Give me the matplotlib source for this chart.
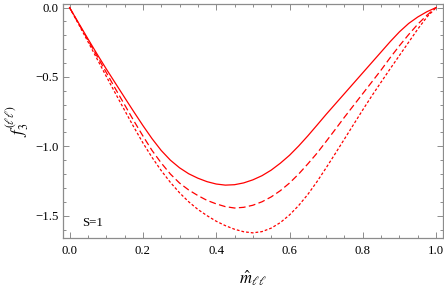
import matplotlib
matplotlib.use("Agg")
import matplotlib.pyplot as plt
from matplotlib.ticker import MultipleLocator

x_vals = [0.0, 0.025, 0.05, 0.075, 0.1, 0.125, 0.15, 0.175, 0.2, 0.225,
          0.25, 0.275, 0.3, 0.325, 0.35, 0.375, 0.4, 0.425, 0.45, 0.475,
          0.5, 0.525, 0.55, 0.575, 0.6, 0.625, 0.65, 0.675, 0.7, 0.725,
          0.75, 0.775, 0.8, 0.825, 0.85, 0.875, 0.9, 0.925, 0.95, 0.975, 1.0]
f_solid = [0.0, -0.113, -0.225, -0.335, -0.442, -0.545, -0.648, -0.75, -0.85, -0.945,
           -1.03, -1.10, -1.155, -1.198, -1.23, -1.255, -1.272, -1.28, -1.277, -1.264,
           -1.242, -1.212, -1.172, -1.122, -1.065, -0.998, -0.925, -0.848, -0.77, -0.695,
           -0.62, -0.545, -0.47, -0.395, -0.32, -0.245, -0.175, -0.115, -0.068, -0.03, 0.0]
f_dashed = [0.0, -0.117, -0.233, -0.35, -0.467, -0.585, -0.70, -0.815, -0.925, -1.03,
            -1.12, -1.20, -1.265, -1.315, -1.355, -1.39, -1.415, -1.435, -1.445, -1.44,
            -1.425, -1.40, -1.365, -1.32, -1.265, -1.20, -1.127, -1.05, -0.965, -0.878,
            -0.79, -0.705, -0.62, -0.535, -0.45, -0.36, -0.275, -0.195, -0.12, -0.055, 0.0]
f_dotted = [0.0, -0.122, -0.245, -0.37, -0.495, -0.618, -0.74, -0.86, -0.975, -1.08,
            -1.175, -1.26, -1.335, -1.40, -1.455, -1.50, -1.54, -1.572, -1.598, -1.616,
            -1.624, -1.615, -1.59, -1.55, -1.495, -1.427, -1.347, -1.255, -1.155, -1.052,
            -0.947, -0.842, -0.737, -0.635, -0.537, -0.44, -0.345, -0.25, -0.155, -0.068, 0.0]

x_ticks = [0.0, 0.2, 0.4, 0.6, 0.8, 1.0]
y_ticks = [0.0, -0.5, -1.0, -1.5]
annotation = "S=1"

plt.rcParams['mathtext.fontset'] = 'stix'
plt.rcParams['font.family'] = ['Liberation Serif', 'DejaVu Serif']

fig = plt.figure(figsize=(4.44, 2.89), dpi=100)
ax = fig.add_axes([0.142, 0.1765, 0.856, 0.8095])

lw = 0.9
ax.plot(x_vals, f_solid, color='red', lw=lw, solid_joinstyle='round')
ax.plot(x_vals, f_dashed, color='red', lw=lw, dashes=(5.4, 2.7))
ax.plot(x_vals, f_dotted, color='red', lw=lw, dashes=(2.2, 1.6))

ax.set_xlim(-0.0177, 1.019)
ax.set_ylim(-1.661, 0.025)
ax.set_xticks(x_ticks)
ax.set_yticks(y_ticks)
ax.set_xticklabels([f"{t:.1f}" for t in x_ticks])
ax.set_yticklabels([("\u2212" if t < 0 else "") + f"{abs(t):.1f}" for t in y_ticks])
ax.xaxis.set_minor_locator(MultipleLocator(0.05))
ax.yaxis.set_minor_locator(MultipleLocator(0.1))

gray = '#8c8c8c'
for s in ax.spines.values():
    s.set_color(gray)
    s.set_linewidth(0.9)
ax.tick_params(which='both', direction='in', top=True, right=True, colors=gray,
               labelcolor='black', labelsize=9.2, width=0.7)
ax.tick_params(which='major', length=4)
ax.tick_params(which='minor', length=2.2)
ax.tick_params(axis='x', pad=5)
ax.tick_params(axis='y', pad=3)

ax.set_xlabel(r"$\hat{m}_{\ell\ell}$", fontsize=12, labelpad=8)
ax.set_ylabel(r"$f_3^{(\ell\ell)}$", fontsize=12, labelpad=3)

ax.text(0.064, -1.553, annotation, fontsize=9.3, ha='center', va='center')

fig.savefig("out.png", dpi=100)
